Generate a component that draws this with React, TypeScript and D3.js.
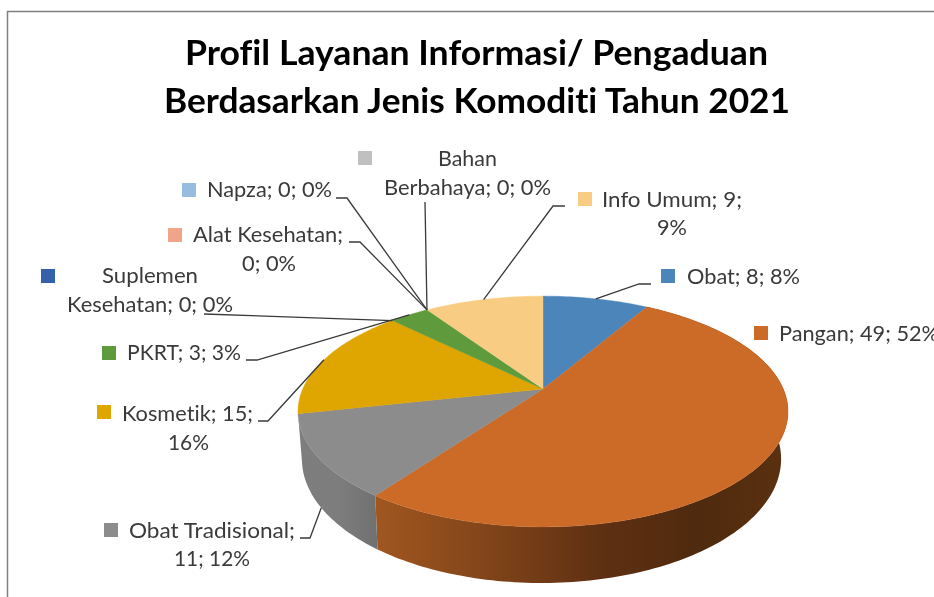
import React from "react";
import * as d3 from "d3";

const categories = ["Obat", "Pangan", "Obat Tradisional", "Kosmetik", "PKRT", "Suplemen Kesehatan", "Alat Kesehatan", "Napza", "Bahan Berbahaya", "Info Umum"];
const values = [8, 49, 11, 15, 3, 0, 0, 0, 0, 9];
const colors = ["#4c85b9", "#cc6a28", "#8c8c8c", "#dfa500", "#5f9a3d", "#3560ab", "#f0a58a", "#98bbe0", "#c0c0c0", "#f8cc82"];
const titleLines = ["Profil Layanan Informasi/ Pengaduan", "Berdasarkan Jenis Komoditi Tahun 2021"];
const labelLines = [
  ["Obat; 8; 8%"],
  ["Pangan; 49; 52%"],
  ["Obat Tradisional;", "11; 12%"],
  ["Kosmetik; 15;", "16%"],
  ["PKRT; 3; 3%"],
  ["Suplemen", "Kesehatan; 0; 0%"],
  ["Alat Kesehatan;", "0; 0%"],
  ["Napza; 0; 0%"],
  ["Bahan", "Berbahaya; 0; 0%"],
  ["Info Umum; 9;", "9%"],
];

// layout, by category index: text [x0, x1, baseline] per line, key box [x, y], leader elbow points
const textPos = [
  [[687, 800, 284]],
  [[779, 939, 341]],
  [[129, 295, 538], [174, 250, 566]],
  [[122, 253, 421], [168, 209, 450]],
  [[127, 241, 360]],
  [[102, 198, 283], [67, 233, 312]],
  [[193, 343, 242], [242, 296, 271]],
  [[207, 332, 197]],
  [[438, 497, 166], [384, 551, 195]],
  [[602, 742, 207], [657, 687, 235]],
];
const keyPos = [[661, 269], [754, 326], [104, 523], [97, 405], [102, 346], [41, 269], [168, 228], [182, 183], [358, 151], [578, 192]];
const leaderElbows: ([number, number][] | null)[] = [
  [[651, 284], [639, 284]],
  null,
  [[300, 538], [310, 538]],
  [[258, 421], [268, 421]],
  [[246, 360], [257, 360]],
  [[204, 314]],
  [[349, 242], [360, 242]],
  [[336, 198], [347, 198]],
  [[425, 202]],
  [[565, 206], [553, 206]],
];

const k = 0.195;
const top = { x0: 543, y0: 389, a: 240.3, b: 111 };
const bottom = { x0: 541.5, y0: 434.8, a: 235, b: 119.3 };
type Rim = typeof top;
const project = (r: Rim, ang: number): [number, number] => {
  const X = Math.sin(ang), Y = Math.cos(ang), w = 1 + k * Y;
  return [r.x0 + (r.a * X) / w, r.y0 - (r.b * Y) / w];
};
const rimPts = (r: Rim, a0: number, a1: number): [number, number][] => {
  const n = Math.max(2, Math.ceil(Math.abs(a1 - a0) / 0.02));
  return d3.range(n + 1).map((i) => project(r, a0 + ((a1 - a0) * i) / n));
};
const line = d3.line();

export default function App() {
  const arcs = d3.pie<number>().sort(null).value((d) => d)(values);
  const color = d3.scaleOrdinal<number, string>().domain(d3.range(values.length)).range(colors);
  const leaderTarget = (i: number): [number, number] => {
    const a = arcs[i];
    const mid = (a.startAngle + a.endAngle) / 2;
    if (categories[i] === "Obat Tradisional") return project(bottom, mid);
    if (categories[i] === "Suplemen Kesehatan") return project(top, arcs[4].startAngle);
    return project(top, mid);
  };
  const walls = [1, 2];
  return (
    <svg width={934} height={597} style={{ position: "absolute", left: 0, top: 0, filter: "blur(0.75px)", fontVariantLigatures: "none" }} fontFamily="Lato">
      <defs>
        <linearGradient id="wall1" gradientUnits="userSpaceOnUse" x1={378} x2={780} y1={0} y2={0}>
          <stop offset="0" stopColor="#a0561f" />
          <stop offset="0.25" stopColor="#84461a" />
          <stop offset="0.55" stopColor="#5f3013" />
          <stop offset="0.8" stopColor="#4f2a0e" />
          <stop offset="1" stopColor="#5a3010" />
        </linearGradient>
        <linearGradient id="wall2" gradientUnits="userSpaceOnUse" x1={298} x2={381} y1={0} y2={0}>
          <stop offset="0" stopColor="#7e7e7e" />
          <stop offset="0.5" stopColor="#7d7d7d" />
          <stop offset="1" stopColor="#6f6f6f" />
        </linearGradient>
      </defs>
      <rect x={0} y={0} width={934} height={597} fill="#ffffff" />
      <path d="M7.5,597V11.5H934" fill="none" stroke="#808080" strokeWidth={1.5} />
      {titleLines.map((t, i) => (
        <text key={t} x={[185, 164][i]} y={[65, 113][i]} fontSize={35} fontWeight={700} fill="#000000" textLength={[583, 626][i]} lengthAdjust="spacingAndGlyphs">{t}</text>
      ))}
      {walls.map((i) => {
        const a = arcs[i];
        const t = rimPts(top, a.startAngle, a.endAngle);
        const b = rimPts(bottom, a.startAngle, a.endAngle).reverse();
        return <path key={i} d={line([...t, ...b])! + "Z"} fill={`url(#wall${i})`} />;
      })}
      {arcs.map((a, i) =>
        a.value > 0 ? (
          <path key={i} d={line([[top.x0, top.y0], ...rimPts(top, a.startAngle, a.endAngle)])! + "Z"} fill={color(i)} stroke={color(i)} strokeWidth={0.4} />
        ) : null
      )}
      {leaderElbows.map((e, i) =>
        e ? <path key={i} d={line([...e, leaderTarget(i)])!} fill="none" stroke="#3a3a3a" strokeWidth={1.3} /> : null
      )}
      {keyPos.map(([x, y], i) => (
        <rect key={i} x={x} y={y} width={14} height={14} fill={color(i)} />
      ))}
      {labelLines.map((ls, i) =>
        ls.map((t, j) => {
          const [x0, x1, y] = textPos[i][j];
          return (
            <text key={t} x={x0} y={y} fontSize={22} fill="#3a3a3a" textLength={x1 - x0} lengthAdjust="spacingAndGlyphs">{t}</text>
          );
        })
      )}
    </svg>
  );
}
